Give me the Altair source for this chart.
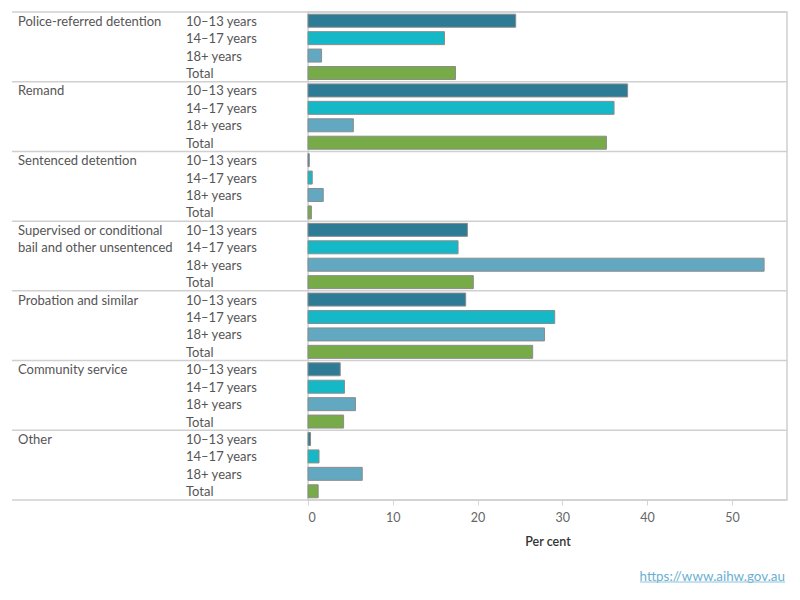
import altair as alt
import pandas as pd

FONT = "Lato"

group_lines = [
    ["Police-referred detention"],
    ["Remand"],
    ["Sentenced detention"],
    ["Supervised or conditional", "bail and other unsentenced"],
    ["Probation and similar"],
    ["Community service"],
    ["Other"],
]
ages = ["10–13 years", "14–17 years", "18+ years", "Total"]
v_10_13 = [24.5, 37.7, 0.15, 18.8, 18.6, 3.8, 0.3]
v_14_17 = [16.1, 36.1, 0.5, 17.7, 29.1, 4.3, 1.3]
v_18plus = [1.6, 5.35, 1.8, 53.8, 27.9, 5.6, 6.4]
v_total = [17.4, 35.2, 0.4, 19.5, 26.5, 4.2, 1.2]
colors = ["#2E7B96", "#14B8C6", "#62A8C0", "#76AB48"]
x_ticks = [0, 10, 20, 30, 40, 50]
source = ["https://www.aihw.gov.au"]

series = [v_10_13, v_14_17, v_18plus, v_total]
rows, glab, tops = [], [], []
for gi, lines in enumerate(group_lines):
    gname = " ".join(lines)
    for ai, a in enumerate(ages):
        key = f"{gi}|{a}"
        rows.append({"group": gname, "age": a, "key": key, "value": series[ai][gi]})
        if ai < len(lines):
            glab.append({"key": key, "line": lines[ai]})
        if ai == 0:
            tops.append({"key": key})
df = pd.DataFrame(rows)
df_g = pd.DataFrame(glab)
df_t = pd.DataFrame(tops)
df_b = pd.DataFrame([{"key": rows[-1]["key"]}])
order = list(df["key"])

W, H = 479, 488
LEFT = 308
yscale = alt.Scale(domain=order, paddingInner=0, paddingOuter=0)
TXT = "#555555"

bars = alt.Chart(df).mark_bar(height=13, stroke="#8c8c8c", strokeWidth=1).encode(
    x=alt.X(
        "value:Q",
        scale=alt.Scale(domain=[0, 56.5], nice=False),
        axis=alt.Axis(
            values=x_ticks, title="Per cent", grid=False, domain=False,
            tickColor="#d4d4d4", tickSize=5, labelColor="#666666", labelFontSize=12.5,
            labelFont=FONT, labelPadding=6, titleColor="#333333", titleFontSize=12.5,
            titleFont=FONT, titleFontWeight=600, titlePadding=12,
        ),
    ),
    y=alt.Y("key:N", scale=yscale, axis=None, sort=order),
    color=alt.Color("age:N", scale=alt.Scale(domain=ages, range=colors), legend=None),
)

age_text = alt.Chart(df).mark_text(
    align="left", baseline="middle", fontSize=13, dy=1, color=TXT, font=FONT
).encode(
    x=alt.value(186 - LEFT),
    y=alt.Y("key:N", scale=yscale, axis=None, sort=order),
    text="age:N",
)

group_text = alt.Chart(df_g).mark_text(
    align="left", baseline="middle", fontSize=13, dy=1, color=TXT, font=FONT
).encode(
    x=alt.value(18 - LEFT),
    y=alt.Y("key:N", scale=yscale, axis=None, sort=order),
    text="line:N",
)

top_rules = alt.Chart(df_t).mark_rule(color="#d0d0d0", strokeWidth=1.5).encode(
    x=alt.value(12 - LEFT), x2=alt.value(W),
    y=alt.Y("key:N", scale=yscale, axis=None, sort=order, bandPosition=0),
)
bottom_rule = alt.Chart(df_b).mark_rule(color="#d0d0d0", strokeWidth=1.5).encode(
    x=alt.value(12 - LEFT), x2=alt.value(W),
    y=alt.Y("key:N", scale=yscale, axis=None, sort=order, bandPosition=1),
)

src_df = pd.DataFrame({"t": source})
footer = alt.Chart(src_df).mark_text(
    align="right", baseline="middle", fontSize=13.4, color="#6aafd2", font=FONT
).encode(text="t:N", x=alt.value(W - 2), y=alt.value(565))
underline = alt.Chart(src_df).mark_rule(color="#8cc3de", strokeWidth=1).encode(
    x=alt.value(W - 147), x2=alt.value(W - 2), y=alt.value(570)
)

chart = alt.layer(top_rules, bottom_rule, bars, age_text, group_text, footer, underline).properties(
    width=W, height=H,
    padding={"left": LEFT, "top": 12, "right": 13, "bottom": 100},
    autosize=alt.AutoSizeParams(type="none"),
    background="white",
).configure_view(stroke="#d0d0d0", strokeWidth=1.5)

chart.save("out.html", embed_options={"renderer": "svg", "actions": False})
